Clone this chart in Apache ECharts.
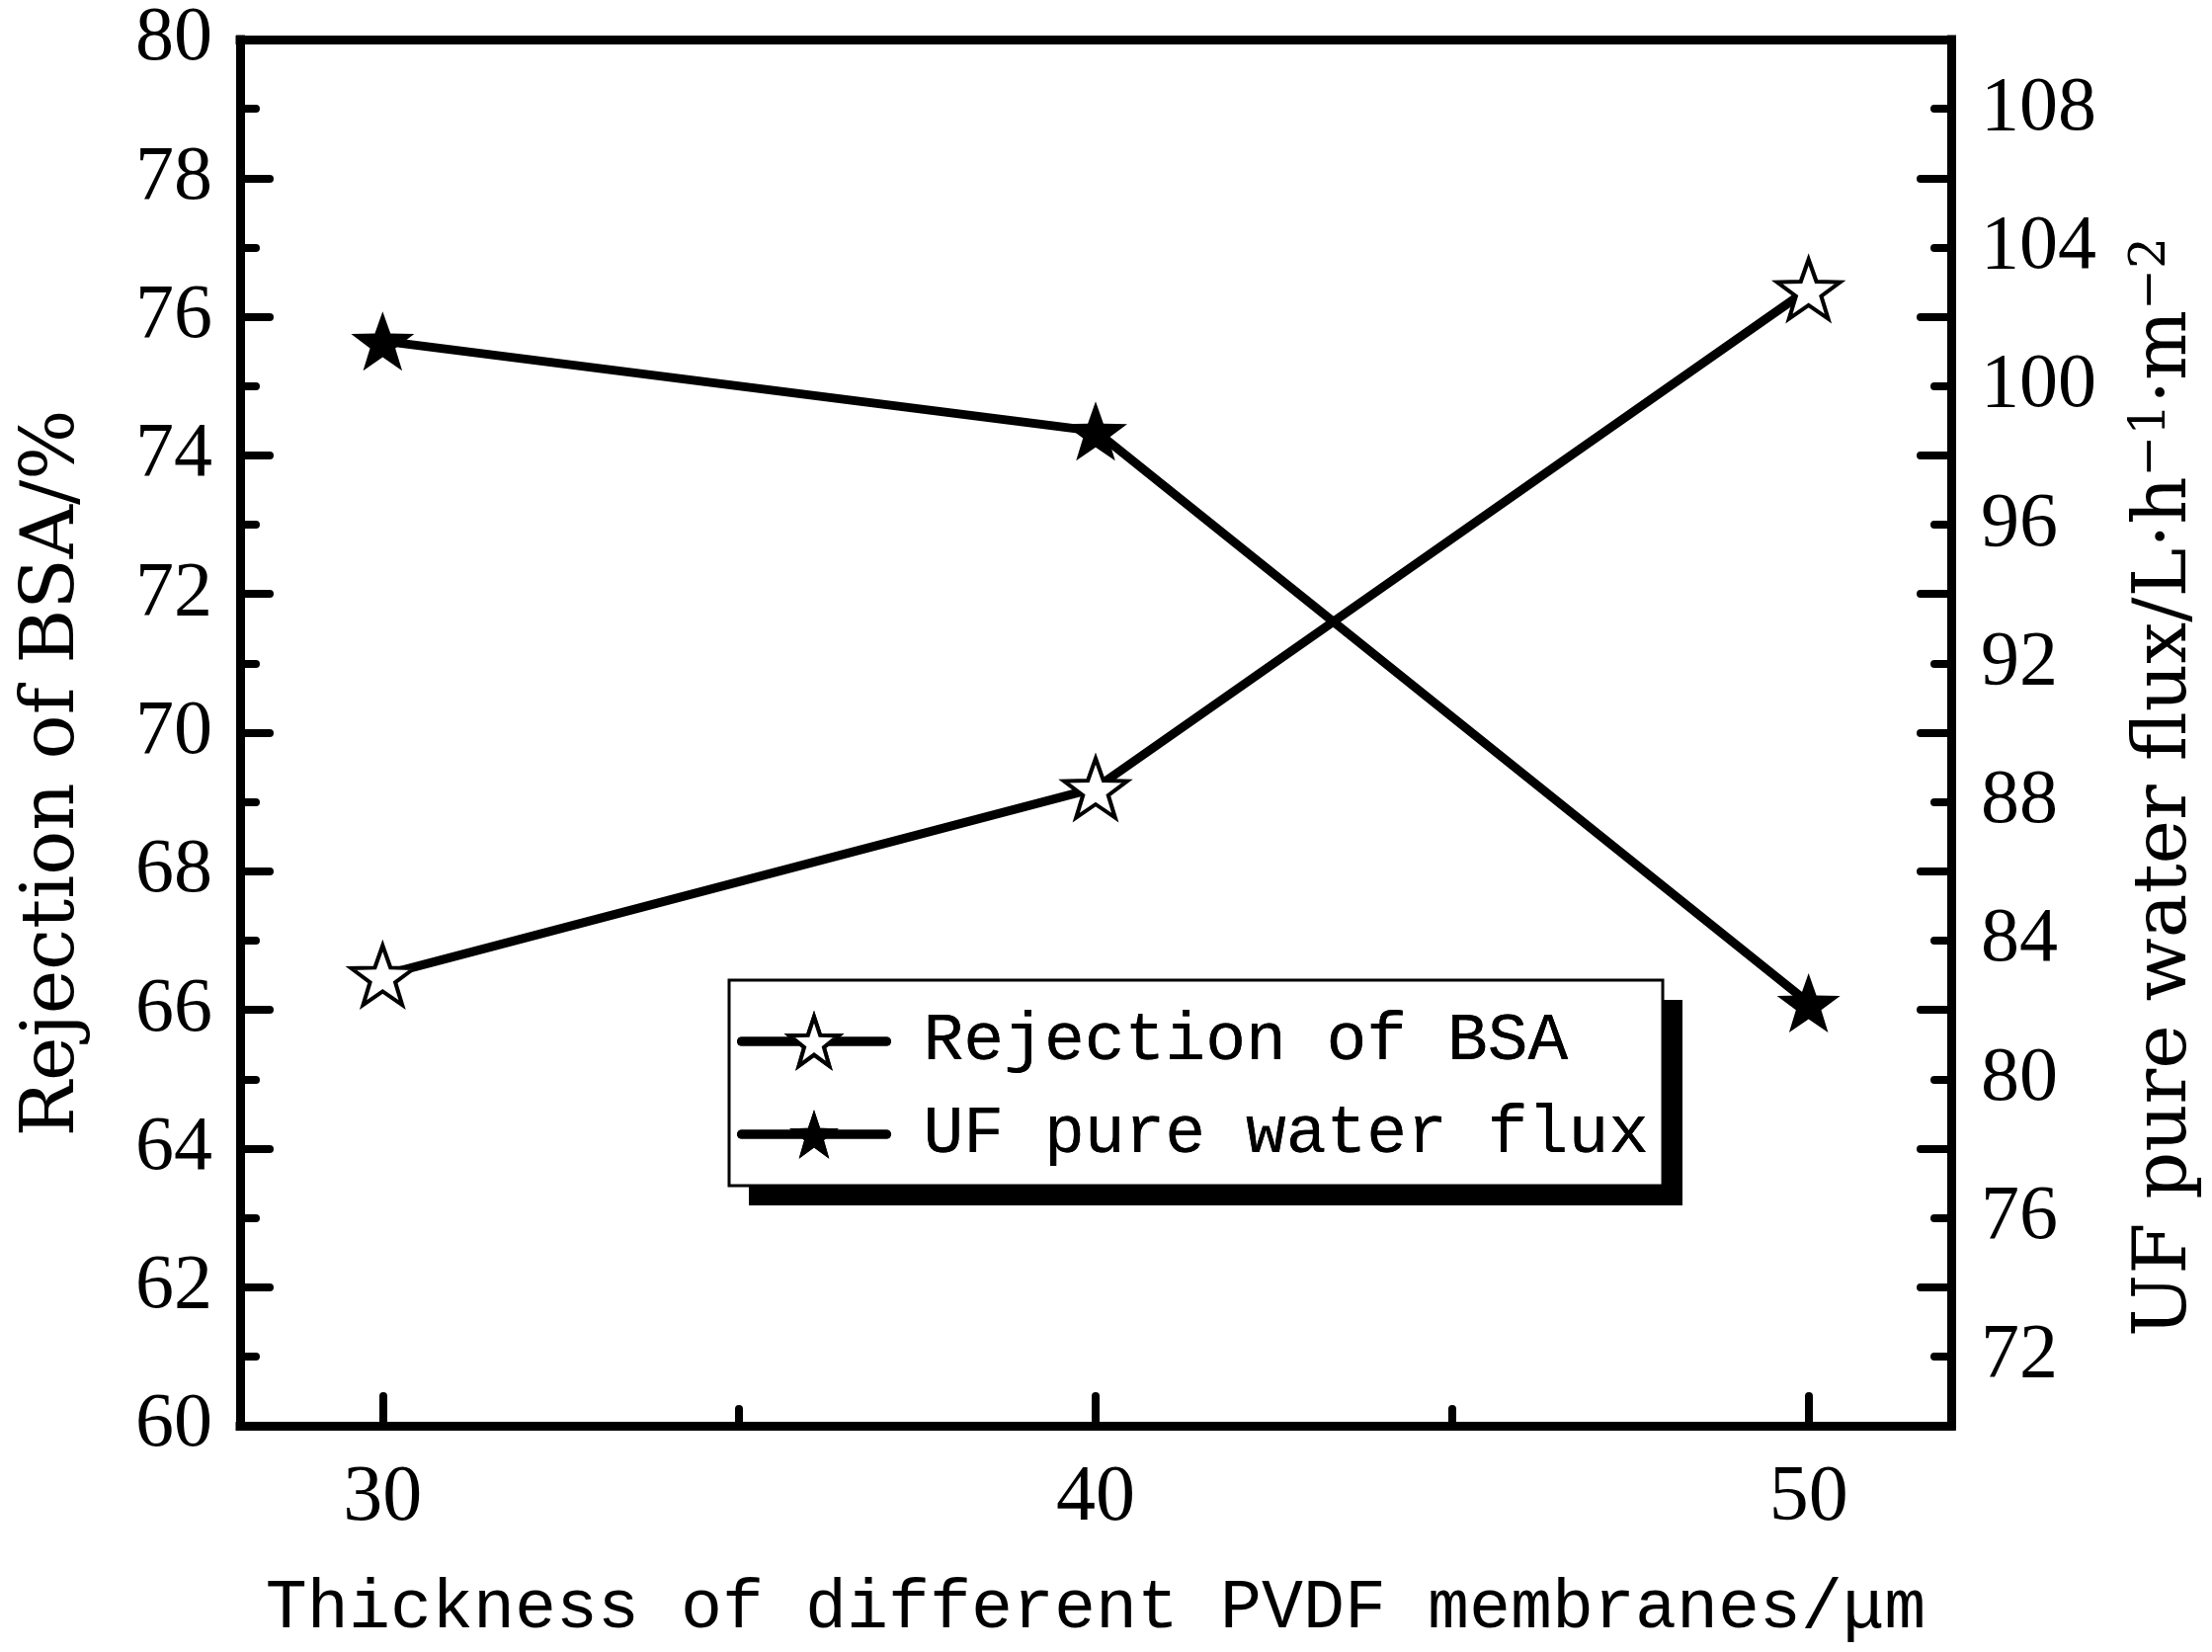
<!DOCTYPE html>
<html>
<head>
<meta charset="utf-8">
<script src="https://cdn.jsdelivr.net/npm/echarts@6/dist/echarts.min.js"></script>
<style>
html,body{margin:0;padding:0;background:#fff;}
#chart{width:2239px;height:1672px;}
</style>
</head>
<body>
<div id="chart"></div>
<script>
// ---- data ----
const thickness = [30, 40, 50];
const rejectionBSA = [66.5, 69.2, 76.4];
const ufFlux = [101.3, 98.7, 82.2];
const xTickLabels = [30, 40, 50];
const xMinorTicks = [35, 45];
const rightTickLabels = [72, 76, 80, 84, 88, 92, 96, 100, 104, 108];
const seriesNames = ['Rejection of BSA', 'UF pure water flux'];

const STAR = 'path://M50 0 L61.76 33.82 L97.55 34.55 L69.02 56.18 L79.39 90.45 L50 70 L20.61 90.45 L30.98 56.18 L2.45 34.55 L38.24 33.82 Z';
const numFont = 'Liberation Serif';
const titleFont = 'DejaVu Serif';
const monoFont = 'Liberation Mono';

const axisLine = {show: true, lineStyle: {color: '#000', width: 9, cap: 'square'}};
const tickStyle = {color: '#000', width: 8, cap: 'round'};

function legendBase(extra) {
  return Object.assign({
    orient: 'vertical',
    left: 738, top: 992,
    padding: [28, 14, 18, 8],
    itemWidth: 147, itemHeight: 62, itemGap: 26,
    textStyle: {fontFamily: monoFont, fontSize: 68, color: '#000', padding: [0, 0, 0, 32]},
    lineStyle: {width: 9, color: '#000', cap: 'round'},
    data: [
      {name: seriesNames[0], itemStyle: {color: '#fff', borderColor: '#000', borderWidth: 4}},
      {name: seriesNames[1], itemStyle: {color: '#000', borderColor: '#000', borderWidth: 0}}
    ]
  }, extra);
}

const chart = echarts.init(document.getElementById('chart'));
chart.setOption({
  animation: false,
  backgroundColor: '#fff',
  grid: {left: 243, right: 264, top: 40, bottom: 229, containLabel: false},
  legend: [
    legendBase({
      z: 4,
      backgroundColor: '#fff', borderWidth: 0,
      shadowColor: '#000', shadowBlur: 0, shadowOffsetX: 20, shadowOffsetY: 20
    }),
    legendBase({
      z: 5,
      backgroundColor: 'transparent', borderColor: '#000', borderWidth: 3
    })
  ],
  xAxis: [
    {
      type: 'value', min: 28, max: 52, position: 'bottom',
      axisLine: axisLine,
      axisTick: {show: true, inside: true, length: 30, lineStyle: tickStyle, customValues: xTickLabels},
      axisLabel: {show: true, customValues: xTickLabels, fontFamily: numFont, fontSize: 80, color: '#000', margin: 34},
      splitLine: {show: false},
      name: 'Thickness of different PVDF membranes/μm',
      nameLocation: 'middle', nameGap: 150,
      nameTextStyle: {fontFamily: monoFont, fontSize: 70, color: '#000'}
    },
    {
      type: 'value', min: 28, max: 52, position: 'bottom',
      axisLine: {show: false},
      axisTick: {show: true, inside: true, length: 17, lineStyle: tickStyle, customValues: xMinorTicks},
      axisLabel: {show: false},
      splitLine: {show: false}
    },
    {
      type: 'value', min: 28, max: 52, position: 'top',
      axisLine: axisLine,
      axisTick: {show: false},
      axisLabel: {show: false},
      splitLine: {show: false}
    }
  ],
  yAxis: [
    {
      type: 'value', min: 60, max: 80, interval: 2, position: 'left',
      axisLine: axisLine,
      axisTick: {show: true, inside: true, length: 30, lineStyle: tickStyle},
      minorTick: {show: true, splitNumber: 2, length: 16, lineStyle: tickStyle},
      axisLabel: {fontFamily: numFont, fontSize: 78, color: '#000', margin: 28},
      splitLine: {show: false},
      name: 'Rejection of BSA/%',
      nameLocation: 'middle', nameGap: 151,
      nameTextStyle: {fontFamily: titleFont, fontSize: 75, color: '#000', padding: [0, 82, 0, 0]}
    },
    {
      type: 'value', min: 70, max: 110, interval: 4, position: 'right',
      axisLine: axisLine,
      axisTick: {show: true, inside: true, length: 31, lineStyle: tickStyle},
      minorTick: {show: true, splitNumber: 2, length: 17, lineStyle: tickStyle},
      axisLabel: {customValues: rightTickLabels, fontFamily: numFont, fontSize: 78, color: '#000', margin: 30},
      splitLine: {show: false},
      name: '{a|UF pure water flux/L·h}{s|−1}{a|·m}{s|−2}',
      nameLocation: 'middle', nameGap: 178,
      nameTextStyle: {
        fontFamily: titleFont, fontSize: 75, color: '#000', padding: [0, 110, 0, 0],
        rich: {
          a: {fontFamily: titleFont, fontSize: 75, color: '#000', lineHeight: 80},
          s: {fontFamily: titleFont, fontSize: 50, color: '#000', lineHeight: 50, verticalAlign: 'top'}
        }
      }
    }
  ],
  series: [
    {
      name: seriesNames[0], type: 'line', xAxisIndex: 0, yAxisIndex: 0,
      data: thickness.map((x, i) => [x, rejectionBSA[i]]),
      symbol: STAR, symbolSize: [64, 60],
      lineStyle: {color: '#000', width: 9, cap: 'round'},
      itemStyle: {color: '#fff', borderColor: '#000', borderWidth: 4},
      z: 3
    },
    {
      name: seriesNames[1], type: 'line', xAxisIndex: 0, yAxisIndex: 1,
      data: thickness.map((x, i) => [x, ufFlux[i]]),
      symbol: STAR, symbolSize: [64, 60],
      lineStyle: {color: '#000', width: 9, cap: 'round'},
      itemStyle: {color: '#000', borderColor: '#000', borderWidth: 0},
      z: 2
    }
  ]
});
</script>
</body>
</html>
